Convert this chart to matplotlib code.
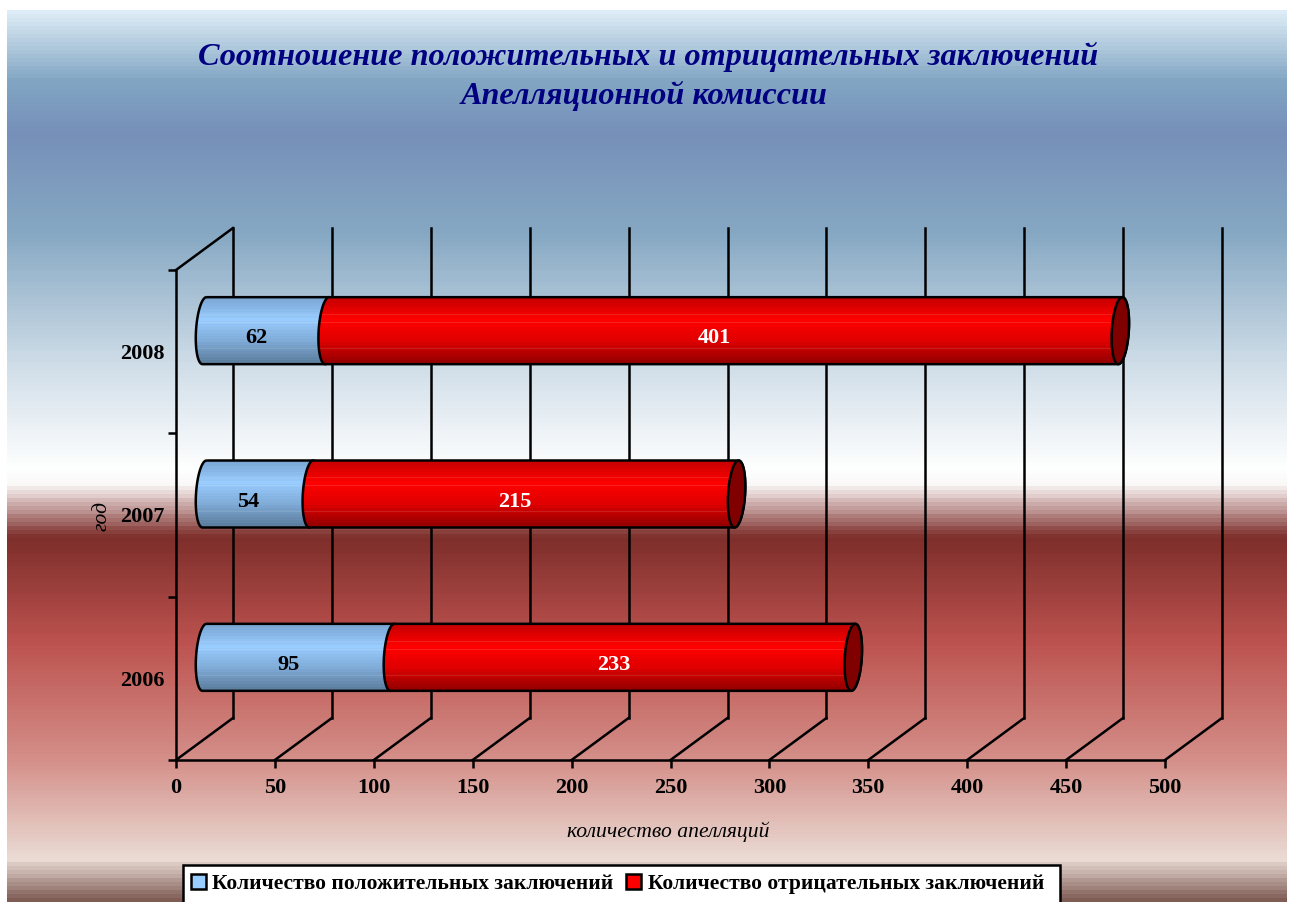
import numpy as np
import matplotlib
matplotlib.use("Agg")
import matplotlib.pyplot as plt
from matplotlib.colors import LinearSegmentedColormap
from matplotlib.patches import PathPatch, Patch, Rectangle
from matplotlib.path import Path

# ---------- data ----------
years = ["2006", "2007", "2008"]
positive = [95, 54, 62]
negative = [233, 215, 401]
x_ticks = [0, 50, 100, 150, 200, 250, 300, 350, 400, 450, 500]
title_line1 = "Соотношение положительных и отрицательных заключений"
title_line2 = "Апелляционной комиссии"
x_title = "количество апелляций"
y_title = "год"
pos_label = "Количество положительных заключений"
neg_label = "Количество отрицательных заключений"

W, H = 1293, 902
SERIF = "Liberation Serif"
plt.rcParams["font.family"] = SERIF
fig = plt.figure(figsize=(W / 100, H / 100), dpi=100, facecolor="white")

# ---------- background ----------
bg_stops = [(10, "#DDECF6"), (78, "#82A6C4"), (130, "#7690B9"), (230, "#86A8C3"), (370, "#D3E0EA"),
            (468, "#FFFFFF"), (483, "#FAF6F6"), (535, "#7D2E2A"), (640, "#BC524F"), (760, "#D5908A"),
            (858, "#EADCD5"), (902, "#76534A")]
rows = np.arange(10, 902, 4)
bg_colors = LinearSegmentedColormap.from_list(
    "bg", [((y - 10) / 892, c) for y, c in bg_stops], N=512)
bg = fig.add_axes([7 / W, 0, 1280 / W, 892 / H], zorder=0)
bg.imshow(((rows - 10) / 892)[:, None], aspect="auto", cmap=bg_colors, vmin=0, vmax=1, interpolation="nearest")
bg.axis("off")

# ---------- plot geometry ----------
ax = fig.add_axes([176 / W, (H - 760) / H, 989 / W, 490 / H], zorder=1)
ax.patch.set_alpha(0)
ax.set_xlim(0, 500)
ax.set_ylim(0, 3)
PX = 500 / 989
PY = 3 / 490
DX, DY = 57 * PX, 42 * PY

LW = 1.8
FS = 16
for t in x_ticks:
    ax.plot([t + DX, t + DX], [DY, 3 + DY], color="black", lw=LW, clip_on=False, zorder=2)
    ax.plot([t, t + DX], [0, DY], color="black", lw=LW, clip_on=False, zorder=2)
ax.plot([0, DX], [3, 3 + DY], color="black", lw=LW, clip_on=False, zorder=2)

for s in ("top", "right"):
    ax.spines[s].set_visible(False)
for s in ("left", "bottom"):
    ax.spines[s].set_linewidth(LW)
ax.set_xticks(x_ticks)
ax.set_yticks([0, 1, 2, 3], minor=False)
ax.set_yticklabels([])
ax.set_yticks([0.5, 1.5, 2.5], minor=True)
ax.set_yticklabels(years, minor=True, fontweight="bold", fontsize=FS)
ax.tick_params(axis="y", which="major", length=6, width=LW)
ax.tick_params(axis="y", which="minor", length=0, pad=8)
ax.tick_params(axis="x", length=6, width=LW, pad=7)
for lab in ax.get_xticklabels():
    lab.set_fontweight("bold")
    lab.set_fontsize(FS)

# ---------- cylinders ----------
A = 8.5 * PX   # half width of a cap
K = 2.0 * PX   # tilt of a cap
B = 33.5 * PY  # half height of a bar
N_BANDS = 22
STREAKS = (17, 25, 51)   # pixel rows, from the top of a bar, where the gradient shows lighter lines
blue_map = LinearSegmentedColormap.from_list("b", ["#7BA7D4", "#99CCFF", "#80ACD8", "#5E80A0"], N=N_BANDS)
red_map = LinearSegmentedColormap.from_list("r", ["#C80000", "#FF0000", "#E00000", "#980000"], N=N_BANDS)


def shade(cmap):
    rgba = cmap(np.linspace(0, 1, 67))[:, None, :].copy()
    for r in STREAKS:
        rgba[r, 0, :3] = rgba[r, 0, :3] * 0.88 + 0.12
    return rgba


def arc(cx, cy, t0, t1, n=40):
    t = np.linspace(t0, t1, n)
    return np.column_stack([cx + A * np.cos(t) + K * np.sin(t), cy + B * np.sin(t)])


def body(x0, x1, cy):
    left = arc(x0, cy, np.pi / 2, 3 * np.pi / 2)
    right = arc(x1, cy, -np.pi / 2, np.pi / 2)
    return np.vstack([left, right, left[:1]])


def shaded(verts, cmap, x0, x1, cy, z):
    patch = PathPatch(Path(verts), facecolor="none", edgecolor="black", lw=LW, zorder=z + 0.1, clip_on=False)
    ax.add_patch(patch)
    img = ax.imshow(shade(cmap), aspect="auto",
                    extent=(x0 - 2 * A, x1 + 2 * A, cy - B, cy + B), origin="upper",
                    interpolation="nearest", zorder=z)
    img.set_clip_path(Path(verts), ax.transData)


for i, (p, n) in enumerate(zip(positive, negative)):
    cy = i + 0.5 + DY / 2
    x0 = DX / 2
    x1 = x0 + p
    x2 = x1 + n
    shaded(body(x0, x1, cy), blue_map, x0, x1, cy, 3)
    shaded(body(x1, x2, cy), red_map, x1, x2, cy, 4)
    cap = arc(x2, cy, 0, 2 * np.pi)
    ax.add_patch(PathPatch(Path(cap), facecolor="#800000", edgecolor="black", lw=LW, zorder=5, clip_on=False))
    ax.text(x0 + p / 2 - 5, cy - 7.5 * PY, str(p), ha="center", va="center",
            fontweight="bold", fontsize=FS, color="black", zorder=6)
    ax.text(x1 + n / 2 - 4.5, cy - 7.5 * PY, str(n), ha="center", va="center",
            fontweight="bold", fontsize=FS, color="white", zorder=6)

ax.set_xlim(0, 500)
ax.set_ylim(0, 3)

# ---------- texts ----------
for line, x_px, y_px in ((title_line1, 648, 57), (title_line2, 644, 96)):
    fig.text(x_px / W, 1 - y_px / H, line, ha="center", va="center", color="#000080",
             fontweight="bold", fontstyle="italic", fontsize=23.2)
fig.text(668 / W, 1 - 832 / H, x_title, ha="center", va="center", fontstyle="italic", fontsize=15.6)
fig.text(102 / W, 1 - 516 / H, y_title, ha="center", va="center", rotation=90, fontstyle="italic", fontsize=15.6)

# ---------- legend ----------
fig.add_artist(Rectangle((183 / W, 1 - 925 / H), 877 / W, 60 / H, transform=fig.transFigure,
                         facecolor="white", edgecolor="black", lw=LW, zorder=9))
leg = fig.legend(handles=[Patch(facecolor="#99CCFF", edgecolor="black", lw=LW, label=pos_label),
                          Patch(facecolor="#FF0000", edgecolor="black", lw=LW, label=neg_label)],
                 ncol=2, loc="center left", bbox_to_anchor=(183 / W, 1 - 884 / H), bbox_transform=fig.transFigure,
                 frameon=False, prop={"family": SERIF, "weight": "bold", "size": 15.5},
                 handlelength=0.72, handleheight=0.72, handletextpad=0.3, columnspacing=0.55,
                 borderpad=0.35, borderaxespad=0)
leg.set_zorder(10)

fig.savefig("out.png", dpi=100, facecolor="white")
